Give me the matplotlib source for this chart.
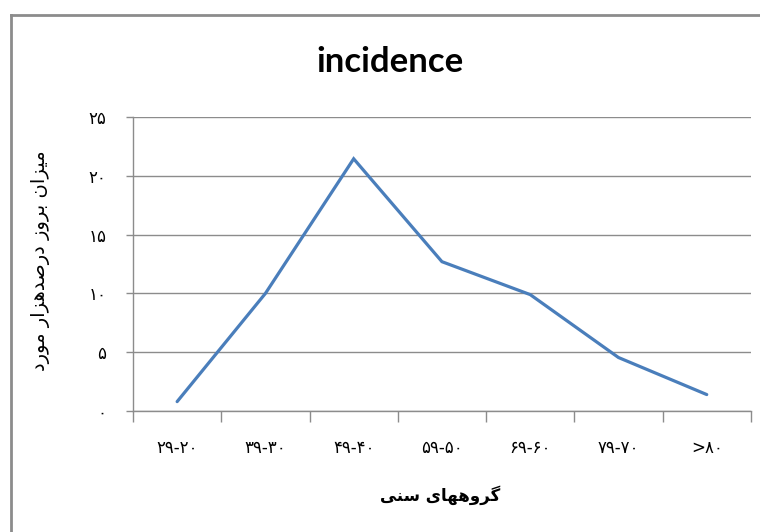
import matplotlib
matplotlib.use("Agg")
import matplotlib.pyplot as plt
from matplotlib.lines import Line2D

# ---------------- data ----------------
categories = ["۲۹-۲۰", "۳۹-۳۰", "۴۹-۴۰", "۵۹-۵۰", "۶۹-۶۰", "۷۹-۷۰", ">۸۰"]
incidence = [0.8, 10.0, 21.45, 12.7, 9.9, 4.55, 1.4]
y_ticks = [0, 5, 10, 15, 20, 25]
y_tick_labels = ["۰", "۵", "۱۰", "۱۵", "۲۰", "۲۵"]
title_text = "incidence"
x_label_text = "گروههای سنی"
y_label_text = "میزان بروز درصدهزار مورد"

# ------------- simple Arabic-script shaping (matplotlib has no shaping) -------------
FORMS = {
    'م': ('\uFEE1', '\uFEE2', '\uFEE3', '\uFEE4'),
    'ی': ('\uFBFC', '\uFBFD', '\uFBFE', '\uFBFF'),
    'ز': ('\uFEAF', '\uFEB0', None, None),
    'ا': ('\uFE8D', '\uFE8E', None, None),
    'ن': ('\uFEE5', '\uFEE6', '\uFEE7', '\uFEE8'),
    'ب': ('\uFE8F', '\uFE90', '\uFE91', '\uFE92'),
    'ر': ('\uFEAD', '\uFEAE', None, None),
    'و': ('\uFEED', '\uFEEE', None, None),
    'د': ('\uFEA9', '\uFEAA', None, None),
    'ص': ('\uFEB9', '\uFEBA', '\uFEBB', '\uFEBC'),
    'ه': ('\uFEE9', '\uFEEA', '\uFEEB', '\uFEEC'),
    'گ': ('\uFB92', '\uFB93', '\uFB94', '\uFB95'),
    'س': ('\uFEB1', '\uFEB2', '\uFEB3', '\uFEB4'),
}


def dual(c):
    return c in FORMS and FORMS[c][2] is not None


def joins(c):
    return c in FORMS


def shape(text):
    out = []
    n = len(text)
    for i, c in enumerate(text):
        if c not in FORMS:
            out.append(c)
            continue
        prev = text[i - 1] if i > 0 else ''
        nxt = text[i + 1] if i + 1 < n else ''
        jp = bool(prev) and dual(prev)
        jn = dual(c) and bool(nxt) and joins(nxt)
        iso, fin, ini, med = FORMS[c]
        if jp and jn:
            out.append(med)
        elif jp:
            out.append(fin)
        elif jn:
            out.append(ini)
        else:
            out.append(iso)
    return ''.join(out)[::-1]


plt.rcParams['font.family'] = ['DejaVu Sans', 'Noto Sans']

fig = plt.figure(figsize=(7.6, 5.32), dpi=100)
ax = fig.add_axes([0.175, 0.2274, 0.813, 0.5526])

x = list(range(len(categories)))
ax.plot(x, incidence, color='#4A7EBB', lw=2.3, solid_capstyle='round', solid_joinstyle='miter', zorder=3)

ax.set_xlim(-0.5, len(categories) - 0.5)
ax.set_ylim(0, 25)
ax.set_yticks(y_ticks)
ax.set_yticklabels(y_tick_labels, fontsize=12)
ax.set_xticks(x)
ax.set_xticklabels(categories, fontsize=12)
ax.set_xticks([i - 0.5 for i in range(len(categories) + 1)], minor=True)
ax.tick_params(axis='x', which='major', length=0, pad=20)
ax.tick_params(axis='x', which='minor', length=8, color='#8c8c8c', width=1)
ax.tick_params(axis='y', length=5, color='#8c8c8c', width=1, pad=14)

ax.grid(axis='y', color='#8c8c8c', lw=1)
ax.set_axisbelow(True)
for s in ['top', 'right']:
    ax.spines[s].set_visible(False)
for s in ['left', 'bottom']:
    ax.spines[s].set_color('#8c8c8c')
    ax.spines[s].set_linewidth(1)

fig.text(0.513, 0.883, title_text, fontsize=25, fontweight='bold', family='Lato',
         ha='center', va='center')
fig.text(0.579, 0.069, shape(x_label_text), fontsize=12, fontweight='bold',
         ha='center', va='center')
fig.text(0.053, 0.51, shape(y_label_text), fontsize=14,
         ha='center', va='center', rotation=90)

# chart-area frame (left and top edges visible)
fig.add_artist(Line2D([0.0145, 0.0145], [0, 0.972], transform=fig.transFigure, color='#8c8c8c', lw=2))
fig.add_artist(Line2D([0.0145, 1.0], [0.972, 0.972], transform=fig.transFigure, color='#8c8c8c', lw=2))

fig.savefig('out.png', dpi=100)
